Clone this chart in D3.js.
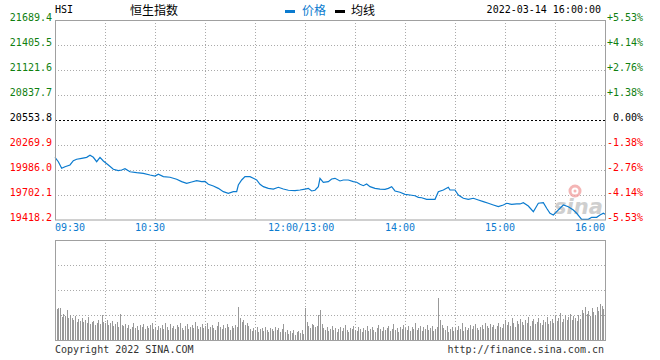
<!DOCTYPE html>
<html><head><meta charset="utf-8">
<script src="https://cdn.jsdelivr.net/npm/d3@7"></script>
<style>body{margin:0;background:#fff}svg{display:block}</style>
</head><body>
<svg id="c" width="660" height="360"></svg>
<script>
const prevClose = 20553.8;
const priceTicks = [21689.4,21405.5,21121.6,20837.7,20553.8,20269.9,19986.0,19702.1,19418.2];
const pctTicks = ["+5.53%","+4.14%","+2.76%","+1.38%","0.00%","-1.38%","-2.76%","-4.14%","-5.53%"];
const timeTicks = ["09:30","10:30","12:00/13:00","14:00","15:00","16:00"];
const times = ["09:30","09:32","09:34","09:36","09:39","09:41","09:43","09:46","09:49","09:51","09:53","09:55","09:57","09:59","10:02","10:05","10:08","10:10","10:12","10:15","10:19","10:23","10:27","10:30","10:32","10:35","10:39","10:43","10:46","10:49","10:52","10:55","10:58","11:00","11:02","11:05","11:08","11:11","11:14","11:17","11:19","11:20","11:22","11:24","11:27","11:29","11:31","11:33","11:35","11:38","11:41","11:44","11:47","11:50","11:54","11:57","12:00","13:02","13:04","13:06","13:08","13:09","13:11","13:14","13:16","13:18","13:21","13:23","13:26","13:29","13:31","13:33","13:35","13:37","13:39","13:42","13:45","13:48","13:50","13:52","13:54","13:57","14:00","14:03","14:06","14:08","14:10","14:13","14:18","14:20","14:23","14:26","14:27","14:30","14:32","14:35","14:38","14:41","14:44","14:47","14:50","14:53","14:56","14:59","15:01","15:04","15:07","15:09","15:11","15:14","15:17","15:20","15:23","15:25","15:27","15:29","15:31","15:33","15:35","15:38","15:41","15:43","15:45","15:46","15:48","15:50","15:52","15:55","15:57","15:59","16:00"];
const prices = [20126,20076,20001,20019,20039,20088,20104,20115,20126,20149,20126,20076,20126,20084,20039,19990,19974,19982,19997,19962,19951,19944,19925,19913,19933,19906,19899,19876,19849,19830,19845,19860,19849,19853,19819,19800,19773,19735,19717,19735,19735,19811,19868,19906,19906,19887,19868,19819,19792,19773,19765,19785,19765,19751,19746,19754,19765,19773,19743,19751,19792,19887,19842,19849,19879,19887,19857,19868,19868,19849,19842,19819,19803,19822,19792,19773,19765,19762,19773,19792,19743,19728,19705,19697,19689,19671,19666,19648,19648,19735,19754,19785,19754,19754,19697,19660,19648,19660,19640,19621,19603,19583,19564,19583,19603,19591,19595,19595,19609,19572,19507,19603,19609,19546,19489,19469,19507,19546,19583,19564,19526,19489,19443,19420,19420,19420,19443,19443,19469,19489,19477];
const volumes = [30,31,32,32,23,26,24,30,22,25,
22,20,24,18,21,19,22,18,20,17,
23,16,18,19,15,17,20,16,25,18,
17,20,15,17,19,14,16,18,13,26,
15,14,16,12,15,11,13,17,12,14,
10,15,13,16,11,14,12,15,17,11,
13,10,14,12,15,11,17,13,10,16,
12,14,11,15,13,17,12,10,14,16,
11,13,15,12,18,14,11,13,16,12,
14,17,11,13,15,12,10,14,18,13,
11,15,12,16,13,10,14,12,15,13,
33,22,18,20,15,17,14,11,9,12,
10,13,8,11,12,9,13,10,8,12,
11,9,13,10,12,8,11,16,8,10,
6,9,7,10,5,8,9,7,10,6,
32,18,14,12,16,15,13,14,25,30,
16,12,10,13,9,11,14,10,12,8,
11,13,9,12,15,10,8,12,11,14,
10,9,13,11,8,12,10,14,9,11,
13,10,8,12,15,11,9,13,10,12,
14,9,11,16,10,12,8,13,11,15,
12,10,14,9,13,11,17,10,12,14,
9,13,11,15,10,12,14,9,11,13,
42,20,15,12,10,14,8,11,13,9,
12,10,14,11,17,9,13,10,12,15,
11,14,16,12,10,13,15,11,17,14,
12,16,13,15,11,14,17,13,12,16,
20,15,18,14,22,17,13,19,16,21,
18,15,20,17,23,14,19,21,16,18,
22,17,15,20,18,23,16,19,21,17,
24,19,22,27,18,21,25,20,23,26,
20,24,22,19,25,21,30,27,33,26,
29,24,32,28,25,33,29,36,34,31,
37];

const svg = d3.select("#c");
const L = 55, R = 605, T = 20, B = 219.5, VT = 240, VB = 340;
const mono = "'DejaVu Sans Mono', monospace";
const blue = "#0b7bcf", green = "#108010", red = "#ff0000", gridC = "#aaaaaa", borderC = "#a0a0a0";

function minuteIndex(t){
  const [h,m] = t.split(/[:\/]/).map(Number);
  const tot = h*60+m;
  return tot <= 720 ? tot - 570 : tot - 780 + 150;
}
const x = d3.scaleLinear().domain([0,330]).range([L,R]);
const y = d3.scaleLinear().domain([priceTicks[8], priceTicks[0]]).range([B,T]);
const yv = d3.scaleLinear().domain([0,100]).range([VB,VT]);

// grid price panel
const gridXs = d3.range(0,331,30);
svg.append("g").selectAll("line").data(gridXs.slice(1,-1)).join("line")
  .attr("x1",d=>x(d)+0.5).attr("x2",d=>x(d)+0.5).attr("y1",T).attr("y2",B)
  .attr("stroke",gridC).attr("stroke-dasharray","1,2");
svg.append("g").selectAll("line").data(priceTicks.filter((d,i)=>i>0&&i<8&&i!==4)).join("line")
  .attr("x1",L).attr("x2",R).attr("y1",d=>Math.round(y(d))+0.5).attr("y2",d=>Math.round(y(d))+0.5)
  .attr("stroke",gridC).attr("stroke-dasharray","1,2");
svg.append("line").attr("x1",L).attr("x2",R).attr("y1",Math.round(y(prevClose))+0.5).attr("y2",Math.round(y(prevClose))+0.5)
  .attr("stroke","#000").attr("stroke-dasharray","2,2");

// volume grid
svg.append("g").selectAll("line").data(gridXs.slice(1,-1)).join("line")
  .attr("x1",d=>x(d)+0.5).attr("x2",d=>x(d)+0.5).attr("y1",VT).attr("y2",VB)
  .attr("stroke",gridC).attr("stroke-dasharray","1,2");
svg.append("g").selectAll("line").data([25,50,75]).join("line")
  .attr("x1",L).attr("x2",R).attr("y1",d=>Math.round(yv(d))+0.5).attr("y2",d=>Math.round(yv(d))+0.5)
  .attr("stroke",gridC).attr("stroke-dasharray","1,2");

// watermark
const wm = svg.append("g").attr("opacity",0.8);
wm.append("circle").attr("cx",575).attr("cy",191).attr("r",5).attr("fill","none").attr("stroke","#f2a3a3").attr("stroke-width",3);
wm.append("circle").attr("cx",575).attr("cy",191).attr("r",1.5).attr("fill","#f2a3a3");
wm.append("text").attr("x",554).attr("y",214).text("sina").attr("font-family","'DejaVu Sans',sans-serif")
  .attr("font-size",21).attr("font-weight","bold").attr("font-style","italic").attr("fill","#c4c4c4");

// volume bars
svg.append("g").selectAll("rect").data(volumes).join("rect")
  .attr("x",(d,i)=>Math.round(x(i))).attr("width",1)
  .attr("y",d=>yv(d)).attr("height",d=>VB-yv(d)).attr("fill","#999");

// price line
const pts = times.map((t,i)=>[minuteIndex(t), prices[i]]);
svg.append("path").datum(pts)
  .attr("d", d3.line().x(d=>x(d[0])).y(d=>y(d[1])))
  .attr("fill","none").attr("stroke",blue).attr("stroke-width",1.2);

// borders
svg.append("rect").attr("x",L+0.5).attr("y",T+0.5).attr("width",R-L).attr("height",B-T).attr("fill","none").attr("stroke",borderC);
svg.append("rect").attr("x",L+0.5).attr("y",VT+0.5).attr("width",R-L).attr("height",VB-VT).attr("fill","none").attr("stroke",borderC);

// left labels
svg.append("g").selectAll("text").data(priceTicks).join("text")
  .attr("x",52).attr("y",d=>y(d)+1).attr("text-anchor","end")
  .attr("font-family",mono).attr("font-size",10)
  .attr("fill",d=>d>prevClose?green:(d<prevClose?red:"#000"))
  .text(d=>d.toFixed(1));
// right labels
svg.append("g").selectAll("text").data(pctTicks).join("text")
  .attr("x",643).attr("y",(d,i)=>y(priceTicks[i])+1).attr("text-anchor","end")
  .attr("font-family",mono).attr("font-size",10)
  .attr("fill",d=>d[0]==="+"?green:(d[0]==="-"?red:"#000"))
  .text(d=>d);
// time labels
svg.append("g").selectAll("text").data(timeTicks).join("text")
  .attr("x",(d,i)=>{ if(i===0) return L; if(i===timeTicks.length-1) return R; const m = minuteIndex(d.split("/").pop()); return i===2? x(150)-37 : x(m)-20; })
  .attr("y",231)
  .attr("text-anchor",(d,i)=>i===timeTicks.length-1?"end":"start")
  .attr("font-family",mono).attr("font-size",10).attr("fill",blue)
  .text(d=>d);

// header
svg.append("text").attr("x",55).attr("y",13).text("HSI").attr("font-family",mono).attr("font-size",10).attr("fill","#000");
svg.append("text").attr("x",130).attr("y",15).text("恒生指数").attr("font-family","'Noto Sans CJK SC',sans-serif").attr("font-size",12).attr("fill","#000");
svg.append("rect").attr("x",285).attr("y",10).attr("width",10).attr("height",3).attr("fill",blue);
svg.append("text").attr("x",302).attr("y",15).text("价格").attr("font-family","'Noto Sans CJK SC',sans-serif").attr("font-size",12).attr("fill",blue);
svg.append("rect").attr("x",335).attr("y",10).attr("width",10).attr("height",3).attr("fill","#000");
svg.append("text").attr("x",351).attr("y",15).text("均线").attr("font-family","'Noto Sans CJK SC',sans-serif").attr("font-size",12).attr("fill","#000");
svg.append("text").attr("x",601).attr("y",13).attr("text-anchor","end").text("2022-03-14 16:00:00").attr("font-family",mono).attr("font-size",10).attr("fill","#000");

// footer
svg.append("text").attr("x",55).attr("y",353).text("Copyright 2022 SINA.COM").attr("font-family",mono).attr("font-size",10).attr("fill","#333");
svg.append("text").attr("x",604).attr("y",353).attr("text-anchor","end").text("http://finance.sina.com.cn").attr("font-family",mono).attr("font-size",10).attr("fill","#333");
</script>
</body></html>
